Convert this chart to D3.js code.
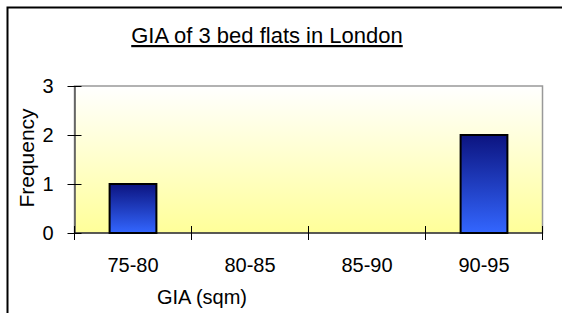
<!DOCTYPE html>
<html>
<head>
<meta charset="utf-8">
<script src="https://cdn.jsdelivr.net/npm/d3@7"></script>
<style>
  body { margin: 0; background: #fff; }
  svg { display: block; font-family: "Liberation Sans", Arial, sans-serif; }
</style>
</head>
<body>
<svg id="chart" width="562" height="313"></svg>
<script>
const categories = ['75-80', '80-85', '85-90', '90-95'];
const frequency = [1, 0, 0, 2];
const yTicks = [0, 1, 2, 3];

const svg = d3.select('#chart');
const plot = { left: 74.5, right: 542.5, top: 86, bottom: 233 };

// outer frame (only top and left visible)
svg.append('path')
  .attr('d', 'M7.5,313 V7.5 H562')
  .attr('fill', 'none')
  .attr('stroke', '#000')
  .attr('stroke-width', 2);

const defs = svg.append('defs');
const bg = defs.append('linearGradient').attr('id', 'bg')
  .attr('x1', 0).attr('y1', 0).attr('x2', 0).attr('y2', 1);
bg.append('stop').attr('offset', '0%').attr('stop-color', '#ffffff');
bg.append('stop').attr('offset', '100%').attr('stop-color', '#ffff99');

const barGrad = defs.append('linearGradient').attr('id', 'barGrad')
  .attr('x1', 0).attr('y1', 0).attr('x2', 0).attr('y2', 1);
barGrad.append('stop').attr('offset', '0%').attr('stop-color', '#0c1480');
barGrad.append('stop').attr('offset', '100%').attr('stop-color', '#3366ff');

const x = d3.scaleBand()
  .domain(categories)
  .range([plot.left, plot.right])
  .paddingInner(0.6)
  .paddingOuter(0.3);

const y = d3.scaleLinear()
  .domain([0, 3])
  .range([plot.bottom, plot.top]);

// plot area
svg.append('rect')
  .attr('x', plot.left).attr('y', plot.top)
  .attr('width', plot.right - plot.left)
  .attr('height', plot.bottom - plot.top)
  .attr('fill', 'url(#bg)')
  .attr('stroke', '#999')
  .attr('stroke-width', 1.5);

// bars
const barData = categories.map((c, i) => ({ cat: c, val: frequency[i] }))
  .filter(d => d.val > 0);

svg.selectAll('.bar')
  .data(barData)
  .enter()
  .append('rect')
  .attr('class', 'bar')
  .attr('x', d => x(d.cat))
  .attr('y', d => y(d.val))
  .attr('width', x.bandwidth())
  .attr('height', d => y(0) - y(d.val))
  .attr('fill', 'url(#barGrad)')
  .attr('stroke', '#000')
  .attr('stroke-width', 2);

// y axis
const yAxis = svg.append('g')
  .attr('transform', `translate(${plot.left},0)`)
  .call(d3.axisLeft(y).tickValues(yTicks).tickFormat(d3.format('d'))
    .tickSizeInner(7).tickSizeOuter(0).tickPadding(14));
yAxis.select('.domain').attr('stroke', '#555').attr('stroke-width', 1.5);
yAxis.selectAll('.tick line').attr('stroke', '#000').attr('x2', 7).attr('x1', -7);
yAxis.selectAll('.tick text').attr('font-size', 20).attr('fill', '#000')
  .attr('font-family', '"Liberation Sans", Arial, sans-serif');

// x axis with ticks between categories
const xEdges = d3.scaleLinear().domain([0, categories.length]).range([plot.left, plot.right]);
const xAxis = svg.append('g')
  .attr('transform', `translate(0,${plot.bottom})`);
xAxis.append('line')
  .attr('x1', plot.left).attr('x2', plot.right)
  .attr('stroke', '#000').attr('stroke-width', 1.2);
xAxis.selectAll('.xt')
  .data(d3.range(categories.length + 1))
  .enter().append('line')
  .attr('x1', d => xEdges(d)).attr('x2', d => xEdges(d))
  .attr('y1', -7).attr('y2', 7)
  .attr('stroke', '#000');
xAxis.selectAll('.xl')
  .data(categories)
  .enter().append('text')
  .attr('x', d => x(d) + x.bandwidth() / 2)
  .attr('y', 39)
  .attr('text-anchor', 'middle')
  .attr('font-size', 20)
  .text(d => d);

// titles
svg.append('text')
  .attr('x', 267).attr('y', 43)
  .attr('text-anchor', 'middle')
  .attr('font-size', 22)
  .attr('text-decoration', 'underline')
  .text('GIA of 3 bed flats in London');

svg.append('text')
  .attr('x', 202).attr('y', 304)
  .attr('text-anchor', 'middle')
  .attr('font-size', 20)
  .text('GIA (sqm)');

svg.append('text')
  .attr('transform', 'translate(34,158) rotate(-90)')
  .attr('text-anchor', 'middle')
  .attr('font-size', 21)
  .text('Frequency');
</script>
</body>
</html>
